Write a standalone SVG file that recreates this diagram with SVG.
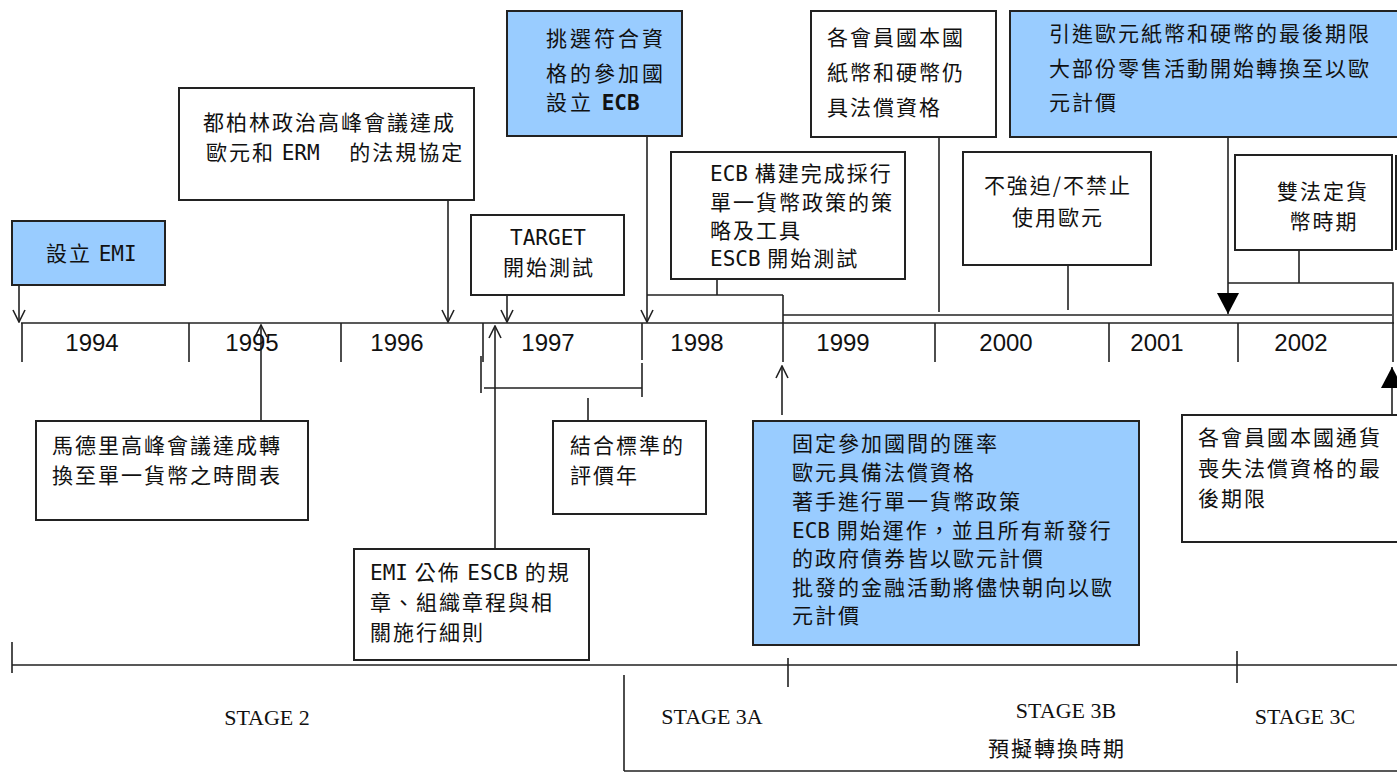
<svg xmlns="http://www.w3.org/2000/svg" width="1397" height="773" viewBox="0 0 1397 773">
<style>
.box{fill:#fff;stroke:#222;stroke-width:2}
.blue{fill:#99ccff;stroke:#222;stroke-width:2}
.t{font-family:"Noto Sans CJK TC","Noto Sans CJK SC",sans-serif;font-size:21px;letter-spacing:2px;fill:#111}
.m{font-family:"DejaVu Sans Mono","Liberation Mono",monospace;letter-spacing:0}
.yr{font-family:"Liberation Sans",Arial,sans-serif;font-size:24px;fill:#111;text-anchor:middle}
.st{font-family:"Liberation Serif","Times New Roman",serif;font-size:22px;fill:#111;text-anchor:middle}
.ln{stroke:#222;stroke-width:1.6;fill:none}
</style>
<defs>
<marker id="open" viewBox="0 0 14 14" refX="13" refY="7" markerWidth="14" markerHeight="14" markerUnits="userSpaceOnUse" orient="auto">
<path d="M1,1 L13,7 L1,13" fill="none" stroke="#222" stroke-width="1.6"/>
</marker>
<marker id="solid" viewBox="0 0 22 22" refX="21" refY="11" markerWidth="22" markerHeight="22" markerUnits="userSpaceOnUse" orient="auto">
<path d="M0,0 L21,11 L0,22 Z" fill="#000"/>
</marker>
</defs>

<g id="connectors">
<line class="ln" x1="21" y1="323" x2="1394" y2="323"/>
<path class="ln" d="M22,323V362M189,323V362M341,323V362M483,323V362M642,323V360M783,295V362M935,323V362M1109,323V362M1238,323V362"/>
<path class="ln" d="M481,356V393M484,388H642M642,363V397M588,398V420"/>
<line class="ln" x1="19" y1="285" x2="19" y2="322" marker-end="url(#open)"/>
<line class="ln" x1="448" y1="200" x2="448" y2="322" marker-end="url(#open)"/>
<line class="ln" x1="507" y1="295" x2="507" y2="322" marker-end="url(#open)"/>
<line class="ln" x1="647" y1="136" x2="647" y2="322" marker-end="url(#open)"/>
<path class="ln" d="M717,279V295M647,295H783"/>
<line class="ln" x1="783" y1="315" x2="1392" y2="315"/>
<line class="ln" x1="939" y1="137" x2="939" y2="312"/>
<line class="ln" x1="1068" y1="265" x2="1068" y2="310"/>
<line class="ln" x1="1228" y1="137" x2="1228" y2="314" marker-end="url(#solid)"/>
<path class="ln" d="M1299,250V283M1228,283H1393V362"/>
<line class="ln" x1="1392" y1="415" x2="1392" y2="367" marker-end="url(#solid)"/>
<line class="ln" x1="261" y1="421" x2="261" y2="325" marker-end="url(#open)"/>
<line class="ln" x1="495" y1="549" x2="495" y2="326" marker-end="url(#open)"/>
<line class="ln" x1="782" y1="415" x2="782" y2="366" marker-end="url(#open)"/>
<path class="ln" d="M12,642V673M12,665H1397M788,658V687M1237,651V683M624,675V771M624,771H1397"/>
</g>

<g id="years">
<text class="yr" x="92" y="351">1994</text>
<text class="yr" x="252" y="351">1995</text>
<text class="yr" x="397" y="351">1996</text>
<text class="yr" x="548" y="351">1997</text>
<text class="yr" x="697" y="351">1998</text>
<text class="yr" x="843" y="351">1999</text>
<text class="yr" x="1006" y="351">2000</text>
<text class="yr" x="1157" y="351">2001</text>
<text class="yr" x="1301" y="351">2002</text>
</g>

<g id="n-emi">
<rect class="blue" x="12" y="221" width="153" height="64"/>
<text class="t" x="46" y="261">設立 <tspan class="m">EMI</tspan></text>
</g>

<g id="n-dublin">
<rect class="box" x="179" y="88" width="295" height="112"/>
<text class="t" x="203" y="130">都柏林政治高峰會議達成</text>
<text class="t" x="206" y="160">歐元和 <tspan class="m">ERM</tspan>　 的法規協定</text>
</g>

<g id="n-target">
<rect class="box" x="471" y="215" width="153" height="80"/>
<text class="t" x="548" y="245" text-anchor="middle"><tspan class="m">TARGET</tspan></text>
<text class="t" x="549" y="275" text-anchor="middle">開始測試</text>
</g>

<g id="n-select">
<rect class="blue" x="507" y="11" width="175" height="125"/>
<text class="t" x="546" y="46" style="letter-spacing:3px">挑選符合資</text>
<text class="t" x="546" y="81" style="letter-spacing:3px">格的參加國</text>
<text class="t" x="546" y="110" style="letter-spacing:3px">設立 <tspan class="m" font-weight="bold">ECB</tspan></text>
</g>

<g id="n-ecb">
<rect class="box" x="671" y="152" width="234" height="127"/>
<text class="t" x="710" y="181"><tspan class="m">ECB</tspan>  構建完成採行</text>
<text class="t" x="710" y="210">單一貨幣政策的策</text>
<text class="t" x="710" y="238">略及工具</text>
<text class="t" x="710" y="266"><tspan class="m">ESCB</tspan> 開始測試</text>
</g>

<g id="n-national">
<rect class="box" x="811" y="11" width="185" height="126"/>
<text class="t" x="827" y="45">各會員國本國</text>
<text class="t" x="827" y="80">紙幣和硬幣仍</text>
<text class="t" x="827" y="115">具法償資格</text>
</g>

<g id="n-intro">
<rect class="blue" x="1010" y="11" width="390" height="126"/>
<text class="t" x="1049" y="41">引進歐元紙幣和硬幣的最後期限</text>
<text class="t" x="1049" y="76">大部份零售活動開始轉換至以歐</text>
<text class="t" x="1049" y="110">元計價</text>
</g>

<g id="n-noforce">
<rect class="box" x="963" y="152" width="188" height="113"/>
<text class="t" x="1058" y="193" text-anchor="middle">不強迫/不禁止</text>
<text class="t" x="1058" y="225" text-anchor="middle">使用歐元</text>
</g>

<g id="n-dual">
<rect class="box" x="1235" y="155" width="157" height="95"/>
<line class="ln" x1="1396" y1="155" x2="1396" y2="250" style="stroke-width:2"/>
<text class="t" x="1323" y="199" text-anchor="middle">雙法定貨</text>
<text class="t" x="1324" y="229" text-anchor="middle">幣時期</text>
</g>

<g id="n-madrid">
<rect class="box" x="36" y="421" width="272" height="99"/>
<text class="t" x="52" y="453">馬德里高峰會議達成轉</text>
<text class="t" x="52" y="483">換至單一貨幣之時間表</text>
</g>

<g id="n-eval">
<rect class="box" x="553" y="421" width="153" height="93"/>
<text class="t" x="570" y="453">結合標準的</text>
<text class="t" x="570" y="483">評價年</text>
</g>

<g id="n-emi-escb">
<rect class="box" x="354" y="549" width="235" height="111"/>
<text class="t" x="370" y="580"><tspan class="m">EMI</tspan> 公佈 <tspan class="m">ESCB</tspan> 的規</text>
<text class="t" x="370" y="610">章、組織章程與相</text>
<text class="t" x="370" y="640">關施行細則</text>
</g>

<g id="n-fix">
<rect class="blue" x="753" y="421" width="386" height="224"/>
<text class="t" x="792" y="451">固定參加國間的匯率</text>
<text class="t" x="792" y="480">歐元具備法償資格</text>
<text class="t" x="792" y="509">著手進行單一貨幣政策</text>
<text class="t" x="792" y="538"><tspan class="m">ECB</tspan>  開始運作，並且所有新發行</text>
<text class="t" x="792" y="566">的政府債券皆以歐元計價</text>
<text class="t" x="792" y="595">批發的金融活動將儘快朝向以歐</text>
<text class="t" x="792" y="623">元計價</text>
</g>

<g id="n-deadline">
<rect class="box" x="1182" y="415" width="220" height="127"/>
<text class="t" x="1198" y="445">各會員國本國通貨</text>
<text class="t" x="1198" y="476">喪失法償資格的最</text>
<text class="t" x="1198" y="506">後期限</text>
</g>

<g id="stages">
<text class="st" x="267" y="725">STAGE 2</text>
<text class="st" x="712" y="724">STAGE 3A</text>
<text class="st" x="1066" y="718">STAGE 3B</text>
<text class="st" x="1305" y="724">STAGE 3C</text>
<text class="t" x="1057" y="756" text-anchor="middle">預擬轉換時期</text>
</g>
</svg>
